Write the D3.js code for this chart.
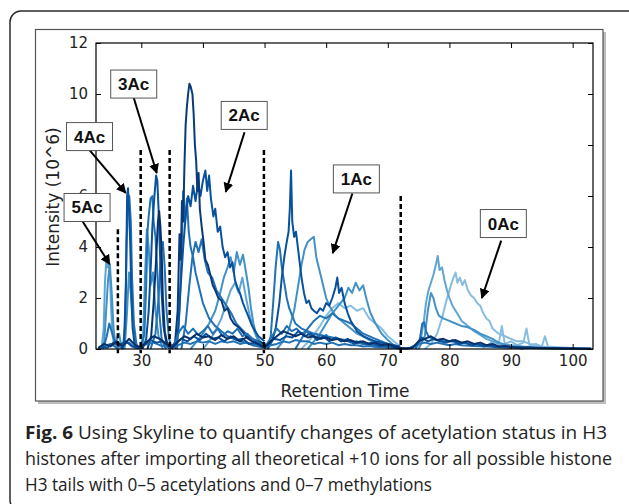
<!DOCTYPE html>
<html><head><meta charset="utf-8">
<script src="https://cdn.jsdelivr.net/npm/d3@7"></script>
<style>body{margin:0;background:#fff}svg{display:block}</style>
</head><body>
<svg id="c" width="629" height="504"></svg>
<script>
// ---------- data ----------
const xTicks = [30,40,50,60,70,80,90,100];
const yTicks = [0,2,4,6,8,10,12];
const xLabel = "Retention Time";
const yLabel = "Intensity (10^6)";
const groupLabels = ["5Ac","4Ac","3Ac","2Ac","1Ac","0Ac"];
// label box centre (data coords), arrow start, arrow tip (data coords)
const labelAt   = [[21.2,5.55],[21.6,8.33],[28.77,10.39],[46.7,9.16],[64.9,6.67],[88.75,4.92]];
const arrowFrom = [[20.35,5.05],[21.6,7.8],[28.77,9.85],[46.75,8.5],[64.25,6.1],[88.4,4.25]];
const arrowTo   = [[24.87,3.33],[27.47,6.12],[32.5,6.9],[43.7,6.16],[61.07,3.76],[85.26,2.0]];
const dashX   = [26.2, 29.9, 34.6, 49.9, 72.1];
const dashTop = [4.7, 7.8, 7.8, 7.8, 6.0];

// chromatogram traces: [retention time, intensity 10^6]
const s5a = [[23.2,0],[23.6,0.1],[23.9,0.8],[24.1,2.6],[24.3,3.4],[24.5,3.2],[24.7,3.5],[24.9,3.0],[25.1,1.6],[25.3,0.6],[25.6,0.15],[26,0.05],[26.5,0]];
const s5b = [[23.5,0],[24.0,0.3],[24.3,1.5],[24.6,2.7],[24.9,3.3],[25.2,2.2],[25.5,0.8],[25.8,0.2],[26.2,0.5],[26.4,0.6],[26.7,0.2],[27.2,0]];
const s5c = [[23.8,0],[24.4,0.5],[24.8,1.0],[25.3,0.6],[25.8,0.2],[26.5,0.1],[27,0]];
const s4a = [[26.8,0],[27.2,0.2],[27.5,2.5],[27.7,6.0],[27.85,6.3],[28.0,5.5],[28.2,4.2],[28.4,2.0],[28.6,0.8],[28.9,0.2],[29.3,0]];
const s4b = [[27.0,0],[27.4,1.0],[27.6,4.0],[27.8,5.6],[28.05,6.0],[28.3,5.0],[28.5,2.8],[28.8,1.0],[29.2,0.2],[29.7,0]];
const s4c = [[27.3,0],[27.7,1.5],[28.0,3.0],[28.3,2.2],[28.7,0.8],[29.2,0.1],[29.8,0]];
const s3a = [[30.2,0],[30.8,0.4],[31.2,1.5],[31.5,3.0],[31.8,4.8],[32.1,5.9],[32.4,6.8],[32.6,6.6],[32.8,5.5],[33.0,4.0],[33.3,2.2],[33.6,0.9],[34.0,0.3],[34.6,0]];
const s3b = [[30.0,0],[30.5,0.6],[30.8,2.5],[31.0,4.6],[31.2,5.2],[31.5,5.9],[31.8,6.0],[32.0,5.0],[32.3,4.4],[32.6,3.0],[32.9,1.5],[33.3,0.4],[34,0]];
const s3c = [[31,0],[31.6,0.5],[32.0,1.8],[32.4,3.5],[32.7,5.0],[32.9,5.4],[33.1,4.8],[33.3,3.8],[33.5,2.0],[33.8,0.7],[34.3,0.1],[34.8,0]];
const s3d = [[29.8,0],[30.3,0.5],[30.6,2.8],[30.9,4.7],[31.2,4.0],[31.5,2.5],[31.9,3.0],[32.3,1.5],[32.8,0.5],[33.5,0]];
const s3e = [[31.5,0],[32.3,0.6],[32.8,2.0],[33.2,3.8],[33.5,4.2],[33.8,3.2],[34.1,1.5],[34.5,0.4],[35,0]];
const s2a = [[35.0,0],[35.5,0.3],[35.9,1.5],[36.2,4.5],[36.4,3.5],[36.6,5.8],[36.8,5.0],[37.0,7.2],[37.2,8.8],[37.4,9.5],[37.6,10.0],[37.8,10.4],[38.0,10.3],[38.3,10.0],[38.5,9.2],[38.7,8.0],[38.9,7.4],[39.1,6.2],[39.3,6.9],[39.5,5.5],[39.8,4.8],[40.1,4.2],[40.4,3.5],[40.8,3.3],[41.2,2.9],[41.6,2.5],[42.0,2.3],[42.5,2.0],[43,1.9],[43.5,1.5],[44,1.6],[44.5,1.2],[45,1.0],[45.5,0.9],[46,0.8],[47,0.5],[48,0.4],[49,0.3],[50,0.2]];
const s2b = [[35.5,0],[36,0.8],[36.4,2.5],[36.8,4.0],[37.2,5.2],[37.6,6.0],[38,5.6],[38.4,6.4],[38.8,5.8],[39.2,6.5],[39.6,6.0],[40.0,6.6],[40.4,7.0],[40.7,6.2],[41.0,6.8],[41.3,5.9],[41.7,5.2],[42.0,5.5],[42.4,4.6],[42.8,4.8],[43.2,4.0],[43.6,3.6],[44.0,3.8],[44.4,3.2],[44.8,3.4],[45.2,2.7],[45.6,2.4],[46.0,2.2],[46.5,1.8],[47,1.5],[47.5,1.2],[48,0.9],[48.5,0.7],[49,0.5],[50,0.3]];
const s2c = [[35.8,0],[36.2,1.5],[36.5,3.5],[36.8,6.2],[37.1,5.0],[37.4,5.9],[37.7,4.6],[38,4.0],[38.4,3.6],[38.8,3.0],[39.2,2.6],[39.6,2.2],[40,1.8],[40.5,1.5],[41,1.2],[42,0.9],[43,0.7],[44,0.5],[46,0.3],[48,0.2],[50,0.1]];
const s2d = [[38,0],[39,0.3],[40,0.6],[41,1.0],[42,1.5],[42.8,2.2],[43.4,2.8],[44,3.2],[44.5,3.6],[45,3.0],[45.5,3.8],[46,3.3],[46.5,3.7],[47,3.0],[47.4,2.4],[47.8,1.6],[48.2,1.0],[48.7,0.5],[49.3,0.3],[50,0.15]];
const s2e = [[36.5,0],[37.2,1.0],[37.8,2.5],[38.3,3.6],[38.8,4.2],[39.3,3.8],[39.8,4.3],[40.3,3.5],[40.8,3.0],[41.5,2.8],[42.2,2.3],[43,2.0],[43.8,1.7],[44.6,1.4],[45.4,1.0],[46.2,0.8],[47,0.6],[48,0.4],[49,0.2]];
const s2f = [[40,0],[41,0.3],[42,0.7],[43,1.2],[43.8,1.8],[44.5,2.3],[45.2,2.6],[45.8,2.2],[46.4,2.8],[47,2.0],[47.6,1.3],[48.3,0.7],[49,0.3],[50,0.1]];
const s1a = [[50.5,0],[51.2,0.3],[51.8,0.8],[52.4,1.8],[52.8,2.8],[53.2,3.6],[53.6,4.2],[53.9,4.6],[54.1,5.5],[54.3,7.0],[54.5,5.0],[54.8,4.4],[55.1,4.6],[55.4,4.0],[55.7,3.4],[56.0,2.8],[56.4,2.2],[56.8,1.8],[57.2,1.9],[57.6,1.6],[58,1.5],[58.5,1.4],[59,1.6],[59.5,1.5],[60,1.8],[60.5,1.7],[61,2.0],[61.5,2.4],[61.8,2.8],[62.1,2.2],[62.5,2.4],[63,1.8],[63.5,1.4],[64,1.1],[64.5,0.9],[65,0.7],[66,0.5],[67,0.4],[68,0.3],[70,0.2],[72,0.1]];
const s1b = [[52,0],[53,0.3],[54,0.8],[54.8,1.5],[55.4,2.4],[56,3.3],[56.5,3.9],[57,4.2],[57.5,4.3],[58,4.4],[58.4,3.6],[58.8,3.2],[59.2,2.8],[59.6,2.4],[60,2.0],[60.5,1.7],[61,1.5],[61.5,1.3],[62,1.2],[63,1.0],[64,0.8],[65,0.6],[66,0.5],[67,0.35],[68,0.25],[70,0.15],[72,0.05]];
const s1c = [[50.5,0],[51.0,0.5],[51.4,1.8],[51.8,3.2],[52.2,4.2],[52.5,3.9],[52.8,3.2],[53.2,2.6],[53.6,2.0],[54,1.6],[54.5,1.3],[55,1.0],[56,0.8],[57,0.7],[58,0.6],[60,0.5],[62,0.4],[64,0.3],[66,0.2],[70,0.1]];
const s1d = [[57,0],[58,0.3],[59,0.6],[60,1.0],[61,1.4],[62,1.7],[63,2.0],[63.6,2.4],[64.2,2.2],[64.8,2.6],[65.4,2.3],[66,2.5],[66.6,1.9],[67.2,1.4],[68,1.0],[69,0.6],[70,0.35],[71,0.15],[72,0.05]];
const s1e = [[56,0],[57.5,0.4],[59,0.9],[60,1.3],[61,1.6],[62,1.8],[63,1.6],[64,1.7],[65,1.5],[66,1.6],[67,1.2],[68,1.0],[69,0.8],[70,0.5],[71,0.3],[72,0.1]];
const s1f = [[55,0],[56,0.4],[57,0.8],[58,1.1],[59,1.3],[60,1.2],[61,1.4],[62,1.2],[63,1.1],[64,1.0],[65,0.8],[66,0.6],[68,0.4],[70,0.2],[72,0.05]];
const s0a = [[74.5,0],[75.3,0.3],[75.8,1.0],[76.2,1.8],[76.6,2.3],[77,2.6],[77.4,2.9],[77.8,3.3],[78.1,3.65],[78.4,3.1],[78.8,3.2],[79.2,2.7],[79.6,2.3],[80,2.0],[80.5,1.7],[81,1.5],[81.5,1.3],[82,1.1],[83,0.9],[84,0.7],[85,0.55],[86,0.4],[87,0.3],[88,0.2],[90,0.15],[92,0.1],[95,0.05]];
const s0b = [[76,0],[77,0.2],[78,0.6],[78.8,1.2],[79.4,1.8],[80,2.3],[80.5,2.7],[81,3.0],[81.3,2.6],[81.7,2.8],[82.1,2.5],[82.5,2.7],[83,2.3],[83.5,2.1],[84,2.0],[84.5,1.8],[85,1.7],[85.5,1.4],[86,1.2],[86.5,1.1],[87,0.8],[88,0.6],[89,0.5],[90,0.4],[91,0.3],[92,0.3],[93,0.2],[95,0.1],[97,0.05]];
const s0c = [[75,0],[76,0.5],[76.5,1.5],[77,2.2],[77.4,2.0],[77.8,1.6],[78.3,1.3],[79,1.2],[80,1.1],[81,1.0],[82,0.9],[83,0.85],[84,0.75],[85,0.6],[86,0.5],[87,0.4],[88,0.25],[90,0.1],[92,0]];
const s0d = [[74.5,0],[75.2,0.4],[75.6,1.0],[75.9,1.05],[76.2,0.7],[76.6,0.5],[77.2,0.4],[78,0.35],[79,0.3],[80,0.3],[82,0.25],[84,0.2],[86,0.15],[88,0.1],[90,0.05]];
const n1 = [[23,0.05],[24,0.2],[25,0.1],[26,0.3],[27,0.1],[28,0.4],[29,0.15],[30,0.05],[31,0.3],[32,0.5],[33,0.4],[34,0.2],[35,0.05],[36,0.3],[37,0.5],[38,0.4],[39,0.6],[40,0.45],[41,0.5],[42,0.35],[43,0.55],[44,0.4],[45,0.5],[46,0.3],[47,0.45],[48,0.3],[49,0.2],[50,0.05],[51,0.3],[52,0.5],[53,0.7],[54,0.6],[55,0.5],[56,0.6],[57,0.45],[58,0.5],[59,0.4],[60,0.45],[61,0.35],[62,0.4],[63,0.3],[64,0.35],[65,0.25],[66,0.3],[67,0.2],[68,0.25],[69,0.15],[70,0.2],[71,0.1],[72,0.05],[73,0.02],[74,0.05],[75,0.3],[76,0.4],[77,0.5],[78,0.35],[79,0.4],[80,0.3],[81,0.35],[82,0.25],[83,0.3],[84,0.2],[85,0.25],[86,0.15],[87,0.2],[88,0.1],[89,0.12],[90,0.08],[92,0.06],[94,0.05],[96,0.04],[98,0.03],[100,0.02],[103,0.01]];
const n2 = [[23.5,0.1],[24.5,0.05],[25.5,0.25],[26.5,0.15],[27.5,0.3],[28.5,0.1],[29.5,0.05],[30.5,0.2],[31.5,0.35],[32.5,0.25],[33.5,0.3],[34.5,0.1],[35.5,0.2],[36.5,0.4],[37.5,0.3],[38.5,0.5],[39.5,0.35],[40.5,0.6],[41.5,0.4],[42.5,0.45],[43.5,0.3],[44.5,0.5],[45.5,0.35],[46.5,0.4],[47.5,0.2],[48.5,0.25],[49.5,0.1],[50.5,0.15],[51.5,0.4],[52.5,0.35],[53.5,0.5],[54.5,0.45],[55.5,0.7],[56.5,0.5],[57.5,0.6],[58.5,0.35],[59.5,0.5],[60.5,0.3],[61.5,0.45],[62.5,0.3],[63.5,0.4],[64.5,0.2],[65.5,0.3],[66.5,0.2],[67.5,0.25],[68.5,0.12],[69.5,0.15],[70.5,0.1],[71.5,0.05],[72.5,0.02],[73.5,0.03],[74.5,0.15],[75.5,0.45],[76.5,0.3],[77.5,0.4],[78.5,0.3],[79.5,0.25],[80.5,0.35],[81.5,0.2],[82.5,0.25],[83.5,0.15],[84.5,0.2],[85.5,0.1],[86.5,0.15],[87.5,0.08],[89,0.1],[91,0.05],[93,0.06],[95,0.03],[97,0.02],[100,0.02],[103,0.01]];
const n3 = [[23,0.02],[24,0.1],[25,0.2],[26,0.05],[27,0.2],[28,0.25],[29,0.05],[30,0.1],[31,0.2],[32,0.25],[33,0.15],[34,0.1],[35,0.05],[36,0.15],[37,0.25],[38,0.2],[39,0.3],[40,0.25],[41,0.3],[42,0.2],[43,0.3],[44,0.25],[45,0.3],[46,0.2],[47,0.25],[48,0.15],[49,0.1],[50,0.05],[51,0.15],[52,0.2],[53,0.3],[54,0.25],[55,0.35],[56,0.3],[57,0.3],[58,0.2],[59,0.25],[60,0.2],[61,0.25],[62,0.15],[63,0.2],[64,0.15],[65,0.15],[66,0.1],[67,0.12],[68,0.08],[70,0.06],[72,0.02],[74,0.04],[75,0.2],[76,0.25],[77,0.2],[78,0.25],[79,0.2],[80,0.15],[81,0.2],[82,0.15],[84,0.12],[86,0.1],[88,0.07],[90,0.05],[93,0.04],[96,0.03],[100,0.02],[103,0.01]];
const n4 = [[86,0.1],[87,0.3],[88,0.2],[88.5,0.9],[89,0.2],[90,0.3],[91,0.15],[92,0.25],[92.5,0.8],[93,0.15],[94,0.2],[95,0.1],[95.5,0.5],[96,0.1],[97,0.08],[99,0.05],[101,0.03],[103,0.02]];
const n5 = [[35.2,0.1],[36.2,0.7],[36.8,0.9],[37.6,0.6],[38.4,0.8],[39.2,0.55],[40,0.7],[40.8,0.9],[41.6,0.6],[42.4,0.8],[43.2,0.5],[44,0.7],[44.8,0.6],[45.6,0.8],[46.4,0.5],[47.2,0.6],[48,0.4],[48.8,0.3],[49.6,0.15],[50.4,0.2],[51.2,0.5],[52,0.8],[52.8,0.6],[53.6,0.9],[54.4,0.7],[55.2,0.8],[56,0.6],[56.8,0.7],[57.6,0.5],[58.4,0.6],[59.2,0.4],[60,0.55],[60.8,0.35],[61.6,0.45],[62.4,0.3],[63.2,0.35],[64,0.25],[65,0.3],[66,0.2],[67,0.2],[68,0.15],[69,0.1],[70,0.1],[71,0.05],[72,0.02]];

const traces = [
  {d:s0b,c:"#86bde0"},{d:s1e,c:"#86bde0"},{d:n4,c:"#86bde0"},
  {d:s5a,c:"#5ea5d3"},{d:s0a,c:"#5ea5d3"},{d:s2f,c:"#5ea5d3"},{d:s1d,c:"#4292c6"},
  {d:s5b,c:"#4292c6"},{d:s4c,c:"#4292c6"},{d:s3d,c:"#4292c6"},{d:s2d,c:"#4292c6"},{d:s1b,c:"#4292c6"},{d:s0c,c:"#4292c6"},
  {d:s5c,c:"#2171b5"},{d:s4b,c:"#2171b5"},{d:s3b,c:"#2171b5"},{d:s3e,c:"#2171b5"},{d:s2c,c:"#2171b5"},{d:s2e,c:"#2171b5"},{d:s1c,c:"#2171b5"},{d:s1f,c:"#2171b5"},{d:s0d,c:"#2171b5"},
  {d:s4a,c:"#08519c"},{d:s3a,c:"#08519c"},{d:s2b,c:"#08519c"},{d:s1a,c:"#08519c"},
  {d:s3c,c:"#08306b"},{d:s2a,c:"#0a3a7a"},
  {d:n5,c:"#2171b5"},{d:n3,c:"#2171b5"},{d:n2,c:"#08519c"},{d:n1,c:"#08306b"}
];

// ---------- drawing ----------
const svg = d3.select("#c");
// outer rounded frame
svg.append("rect").attr("x",10).attr("y",11).attr("width",640).attr("height",500)
  .attr("rx",11).attr("fill","none").attr("stroke","#2a2a2a").attr("stroke-width",1.5);
// figure panel with shadow
svg.append("rect").attr("x",38).attr("y",32).attr("width",568).attr("height",372).attr("fill","#bdbdbd");
svg.append("rect").attr("x",35.5).attr("y",29.5).attr("width",567.5).attr("height",371.5)
  .attr("fill","#fff").attr("stroke","#555").attr("stroke-width",1.2);

const L=96, R=593, T=43, B=349;
const x = d3.scaleLinear().domain([22.65,103.3]).range([L,R]);
const y = d3.scaleLinear().domain([0,12]).range([B,T]);

svg.append("clipPath").attr("id","pc").append("rect")
  .attr("x",L).attr("y",T).attr("width",R-L).attr("height",B-T+1);

const line = d3.line().x(d=>x(d[0])).y(d=>y(d[1]));
const g = svg.append("g").attr("clip-path","url(#pc)");
g.selectAll("path").data(traces).join("path")
  .attr("d",t=>line(t.d)).attr("fill","none").attr("stroke",t=>t.c)
  .attr("stroke-width",2).attr("stroke-linejoin","round");

// axes
const fnt = "DejaVu Sans";
function styleAxis(sel){
  sel.select(".domain").remove();
  sel.selectAll(".tick line").attr("stroke","#000").attr("stroke-width",1);
  sel.selectAll(".tick text").attr("fill","#222").style("font-family",fnt).style("font-size","15px");
}
svg.append("g").attr("transform",`translate(0,${B})`)
  .call(d3.axisBottom(x).tickValues(xTicks).tickSize(-5).tickPadding(6)).call(styleAxis);
svg.append("g").attr("transform",`translate(0,${T})`)
  .call(d3.axisTop(x).tickValues(xTicks).tickSize(-5).tickFormat("")).call(styleAxis);
svg.append("g").attr("transform",`translate(${L},0)`)
  .call(d3.axisLeft(y).tickValues(yTicks).tickSize(-5).tickPadding(8)).call(styleAxis);
svg.append("g").attr("transform",`translate(${R},0)`)
  .call(d3.axisRight(y).tickValues(yTicks).tickSize(-5).tickFormat("")).call(styleAxis);

svg.append("rect").attr("x",L).attr("y",T).attr("width",R-L).attr("height",B-T)
  .attr("fill","none").attr("stroke","#000").attr("stroke-width",1.2);

// dashed separators
svg.selectAll(".dash").data(dashX).join("line").attr("class","dash")
  .attr("x1",d=>x(d)).attr("x2",d=>x(d))
  .attr("y1",(d,i)=>y(dashTop[i])).attr("y2",y(-0.17))
  .attr("stroke","#000").attr("stroke-width",2.5).attr("stroke-dasharray","5,3");

// axis labels
svg.append("text").attr("x",345).attr("y",397).attr("text-anchor","middle")
  .style("font-family",fnt).style("font-size","17px").attr("fill","#222").text(xLabel);
svg.append("text").attr("transform","translate(59,197) rotate(-90)").attr("text-anchor","middle")
  .style("font-family",fnt).style("font-size","17px").attr("fill","#222").text(yLabel);

// annotations
svg.append("defs").append("marker").attr("id","ah").attr("viewBox","0 0 10 10")
  .attr("refX",9).attr("refY",5).attr("markerWidth",5).attr("markerHeight",5)
  .attr("markerUnits","strokeWidth").attr("orient","auto")
  .append("path").attr("d","M0,0 L10,5 L0,10 z").attr("fill","#000");
groupLabels.forEach((lab,i)=>{
  svg.append("line").attr("x1",x(arrowFrom[i][0])).attr("y1",y(arrowFrom[i][1]))
    .attr("x2",x(arrowTo[i][0])).attr("y2",y(arrowTo[i][1]))
    .attr("stroke","#000").attr("stroke-width",2).attr("marker-end","url(#ah)");
  const cx=x(labelAt[i][0]), cy=y(labelAt[i][1]);
  svg.append("rect").attr("x",cx-23).attr("y",cy-14).attr("width",46).attr("height",28)
    .attr("fill","#fff").attr("stroke","#555").attr("stroke-width",1);
  svg.append("text").attr("x",cx).attr("y",cy+6).attr("text-anchor","middle")
    .style("font-family","Liberation Sans, Arial").style("font-weight","bold").style("font-size","17px")
    .attr("fill","#111").text(lab);
});

// caption
const cap = svg.append("g").style("font-family","Open Sans").style("font-size","17.5px").attr("fill","#222");
const t1 = cap.append("text").attr("x",25).attr("y",439).attr("textLength",582).attr("lengthAdjust","spacingAndGlyphs");
t1.append("tspan").style("font-weight","bold").text("Fig. 6");
t1.append("tspan").text(" Using Skyline to quantify changes of acetylation status in H3");
cap.append("text").attr("x",25).attr("y",465).attr("textLength",587).attr("lengthAdjust","spacingAndGlyphs")
  .text("histones after importing all theoretical +10 ions for all possible histone");
cap.append("text").attr("x",25).attr("y",491).attr("textLength",407).attr("lengthAdjust","spacingAndGlyphs")
  .text("H3 tails with 0–5 acetylations and 0–7 methylations");
</script>
</body></html>
